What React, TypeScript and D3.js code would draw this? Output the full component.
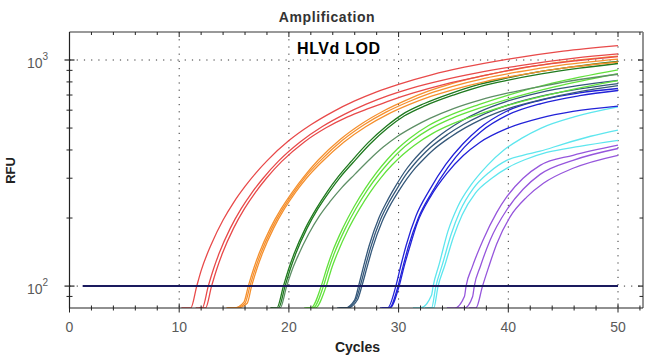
import React from "react";
import * as d3 from "d3";

type Pt = [number, number];

const xMajorTicks = [0, 10, 20, 30, 40, 50];
const xMinorTicks = [0, 2, 4, 6, 8, 10, 12, 14, 16, 18, 20, 22, 24, 26, 28, 30, 32, 34, 36, 38, 40, 42, 44, 46, 48, 50, 52];
const yMajorTicks = [100, 1000];
const yMinorTicks = [90, 200, 300, 400, 500, 600, 700, 800, 900];
const yTickExp = ["2", "3"];
const threshold: Pt[] = [[1.2, 100], [50, 100]];

const red1: Pt[] = [[10.2,70],[11.05,80],[11.6,100],[12.0,117],[13.0,156],[14.0,196],[15.0,236],[16.0,276],[17.0,317],[18,358],[20,440],[22,517],[24,590],[26,659],[28,723],[30,781],[33,860],[36,929],[40,1009],[45,1095],[50,1158]];
const red2: Pt[] = [[11.5,70],[12.1,80],[12.65,100],[13.15,120],[13.65,140],[14.65,180],[15.65,220],[16.65,260],[17.65,300],[19.05,357],[21.05,435],[23.05,508],[25.05,575],[27.05,638],[29.05,696],[31.05,748],[34.05,815],[37.05,875],[41.05,945],[46.05,1020],[50,1065]];
const red3: Pt[] = [[11.8,70],[12.4,80],[12.95,100],[13.45,120],[13.95,140],[14.95,180],[15.95,220],[16.95,260],[17.95,300],[19.35,356],[21.35,432],[23.35,500],[25.35,560],[27.35,612],[29.35,665],[31.35,715],[34.35,785],[37.35,845],[41.35,925],[46.35,995],[50,1036]];
const orange1: Pt[] = [[14.3,70],[15.0,80],[15.9,85],[16.3,100],[16.8,120],[17.3,140],[18.3,180],[19.3,220],[20.3,260],[21.3,302],[22.7,362],[24.7,446],[26.7,525],[28.7,598],[30.7,665],[32.7,728],[34.7,782],[37.7,852],[40.7,910],[44.7,978],[50,1041]];
const orange2: Pt[] = [[14.4,70],[15.1,80],[16.0,84],[16.45,100],[16.95,120],[17.45,140],[18.45,180],[19.45,220],[20.45,260],[21.45,302],[22.85,358],[24.85,440],[26.85,517],[28.85,588],[30.85,652],[32.85,712],[34.85,763],[37.85,830],[40.85,885],[44.85,950],[50,1010]];
const orange3: Pt[] = [[14.6,70],[15.3,80],[16.2,84],[16.6,100],[17.1,120],[17.6,140],[18.6,180],[19.6,220],[20.6,260],[21.6,300],[23.0,354],[25.0,433],[27.0,507],[29.0,575],[31.0,636],[33.0,692],[35.0,740],[38.0,805],[41.0,857],[45.0,920],[50,980]];
const dkgreen1: Pt[] = [[18.3,70],[18.9,80],[19.5,100],[20.0,120],[20.5,140],[21.5,180],[22.5,220],[23.5,262],[24.5,305],[25.7,357],[27.25,432],[28.85,508],[30.35,575],[32.35,642],[34.85,714],[37.35,780],[39.85,832],[42.85,888],[46.35,940],[50,985]];
const dkgreen2: Pt[] = [[18.4,70],[19.05,80],[19.65,100],[20.15,120],[20.65,140],[21.65,180],[22.65,220],[23.65,260],[24.65,302],[25.85,352],[27.4,425],[29.0,500],[30.5,565],[32.5,630],[35.0,700],[37.5,765],[40.0,815],[43.0,868],[46.5,920],[50,965]];
const dkgreen3: Pt[] = [[18.5,70],[19.2,80],[19.8,100],[20.3,118],[20.8,135],[21.8,170],[22.8,205],[23.8,238],[24.8,272],[26.0,312],[27.4,365],[28.6,412],[29.85,458],[31.3,505],[32.85,552],[35.0,610],[37.4,665],[40.0,715],[43.0,765],[46.5,820],[50,865]];
const ltgreen1: Pt[] = [[21.4,70],[22.0,80],[22.95,100],[23.45,120],[23.95,141],[24.95,182],[25.95,225],[26.95,270],[27.95,316],[28.95,362],[29.95,407],[31.0,450],[32.7,512],[34.5,565],[37.3,635],[40,700],[44,790],[50,905]];
const ltgreen2: Pt[] = [[21.6,70],[22.2,80],[23.15,100],[23.65,120],[24.15,140],[25.15,180],[26.15,222],[27.15,266],[28.15,310],[29.15,354],[30.15,397],[31.2,438],[32.9,497],[34.7,548],[37.5,615],[40.2,676],[44.2,760],[50,870]];
const ltgreen3: Pt[] = [[21.8,70],[22.4,80],[23.4,100],[23.9,120],[24.4,139],[25.4,178],[26.4,218],[27.4,260],[28.4,302],[29.4,343],[30.4,382],[31.45,420],[33.15,475],[34.95,523],[37.75,585],[40.45,640],[44.45,715],[50,810]];
const slate1: Pt[] = [[24.4,70],[25.1,80],[26.0,87],[26.35,100],[26.8,122],[27.3,150],[28.2,200],[29.0,240],[29.75,278],[30.5,318],[31.25,355],[32.0,390],[32.8,425],[34.3,485],[35.8,540],[37.35,590],[39.8,655],[42.85,718],[46.5,772],[50,812]];
const slate2: Pt[] = [[24.55,70],[25.2,80],[26.1,87],[26.5,100],[26.95,121],[27.45,148],[28.35,197],[29.15,236],[29.9,272],[30.65,310],[31.4,345],[32.15,378],[32.95,412],[34.45,468],[35.95,520],[37.5,568],[39.9,630],[42.9,690],[46.5,745],[50,787]];
const slate3: Pt[] = [[24.7,70],[25.35,80],[26.25,87],[26.65,100],[27.1,120],[27.6,146],[28.5,193],[29.3,231],[30.05,265],[30.8,300],[31.55,334],[32.3,365],[33.1,398],[34.6,452],[36.1,502],[37.6,548],[40.0,610],[43.0,668],[46.5,725],[50,770]];
const blue1: Pt[] = [[28.3,70],[29.0,80],[29.75,100],[30.2,123],[30.7,152],[31.6,205],[32.8,265],[34.3,345],[35.85,425],[37.35,498],[39.8,592],[42.85,662],[46.5,716],[50,748]];
const blue2: Pt[] = [[28.45,70],[29.15,80],[29.95,100],[30.4,122],[30.9,150],[31.8,200],[33.0,258],[34.5,335],[36.0,412],[37.5,482],[40,573],[43,642],[46.5,695],[50,733]];
const blue3: Pt[] = [[28.5,70],[29.2,80],[30.05,100],[30.5,122],[31.0,148],[31.7,190],[32.9,248],[34.4,315],[35.9,378],[37.4,432],[39.85,497],[42.9,553],[45.9,592],[50,625]];
const cyan1: Pt[] = [[31.3,70],[32.0,80],[33.0,91],[33.15,100],[33.7,125],[34.5,175],[35.4,225],[36.6,280],[38.1,342],[39.6,400],[41.2,450],[43.0,500],[46,560],[50,620]];
const cyan2: Pt[] = [[32.4,70],[33.0,80],[33.4,100],[34.0,125],[34.8,170],[35.6,215],[36.8,270],[38.3,320],[39.85,360],[41.4,380],[42.9,395],[45,425],[47.5,460],[50,490]];
const cyan3: Pt[] = [[32.6,70],[33.2,80],[33.6,100],[34.2,123],[35.0,165],[35.8,207],[37.0,258],[38.5,300],[40.0,335],[41.5,362],[43.5,390],[46.5,415],[50,441]];
const purple1: Pt[] = [[34.4,70],[35.1,80],[36.0,90],[36.15,100],[36.7,121],[37.7,160],[38.95,212],[39.85,248],[41.35,300],[42.9,342],[45.9,379],[50,420]];
const purple2: Pt[] = [[35.3,70],[36.0,80],[36.75,90],[36.9,100],[37.45,122],[38.35,160],[39.85,217],[41.35,268],[42.9,312],[45.9,360],[50,406]];
const purple3: Pt[] = [[36.4,70],[37.05,80],[37.65,100],[38.2,121],[38.95,154],[40.15,202],[41.7,248],[43.2,285],[45.9,332],[50,379]];

const series: { group: string; pts: Pt[] }[] = [
  { group: "purple", pts: purple1 }, { group: "purple", pts: purple2 }, { group: "purple", pts: purple3 },
  { group: "cyan", pts: cyan1 }, { group: "cyan", pts: cyan2 }, { group: "cyan", pts: cyan3 },
  { group: "blue", pts: blue1 }, { group: "blue", pts: blue2 }, { group: "blue", pts: blue3 },
  { group: "slate", pts: slate1 }, { group: "slate", pts: slate2 }, { group: "slate", pts: slate3 },
  { group: "ltgreen", pts: ltgreen1 }, { group: "ltgreen", pts: ltgreen2 }, { group: "ltgreen", pts: ltgreen3 },
  { group: "dkgreen", pts: dkgreen1 }, { group: "dkgreen", pts: dkgreen2 }, { group: "greygreen", pts: dkgreen3 },
  { group: "orange", pts: orange1 }, { group: "orange", pts: orange2 }, { group: "orange", pts: orange3 },
  { group: "red", pts: red1 }, { group: "red", pts: red2 }, { group: "red", pts: red3 },
];

const colors: Record<string, string> = {
  red: "#e84a4a",
  orange: "#f5902e",
  dkgreen: "#1f7a1f",
  greygreen: "#5e8f66",
  ltgreen: "#62e23c",
  slate: "#35587a",
  blue: "#2222d8",
  cyan: "#5ee6ee",
  purple: "#9656dc",
};

const W = 652;
const H = 359;
const left = 69.5;
const right = 643;
const top = 32;
const bottom = 308;

export default function App() {
  const x = d3.scaleLinear().domain([0, 50]).range([left, 618]);
  const y = d3.scaleLog().domain([80, 1330]).range([bottom, top]).clamp(true);
  const line = d3
    .line<Pt>()
    .x((d) => x(d[0]))
    .y((d) => y(d[1]))
    .curve(d3.curveMonotoneX);
  const font = "'Liberation Sans', Arial, sans-serif";
  const xMax = x.invert(right);

  return (
    <svg
      width={W}
      height={H}
      style={{ position: "absolute", left: 0, top: 0, background: "#fff" }}
      fontFamily={font}
    >
      <defs>
        <clipPath id="plot">
          <rect x={left} y={top} width={right - left} height={bottom - top} />
        </clipPath>
      </defs>
      <rect x={0} y={0} width={W} height={H} fill="#fff" />
      {xMajorTicks.filter((t) => t > 0).map((t) => (
        <line key={"gx" + t} x1={x(t)} x2={x(t)} y1={top} y2={bottom} stroke="#333" strokeWidth={1} strokeDasharray="1.2,6" />
      ))}
      {yMajorTicks.map((t) => (
        <line key={"gy" + t} x1={left} x2={right} y1={y(t)} y2={y(t)} stroke="#333" strokeWidth={1} strokeDasharray="1.2,6" />
      ))}
      <g clipPath="url(#plot)">
        {series.map((s, i) => (
          <path key={i} d={line(s.pts) || ""} fill="none" stroke={colors[s.group]} strokeWidth={1.3} />
        ))}
      </g>
      <path d={d3.line<Pt>().x((d) => x(d[0])).y((d) => y(d[1]))(threshold) || ""} stroke="#1a1a5e" strokeWidth={2} fill="none" />
      <line x1={left} x2={right} y1={top} y2={top} stroke="#777" strokeWidth={1.6} />
      <line x1={right} x2={right} y1={top} y2={bottom} stroke="#777" strokeWidth={1.6} />
      <line x1={left} x2={left} y1={top} y2={bottom + 0.5} stroke="#222" strokeWidth={1.2} />
      <line x1={left} x2={right} y1={bottom} y2={bottom} stroke="#222" strokeWidth={1.2} />
      {xMinorTicks.filter((t) => t <= xMax).map((t) => {
        const major = xMajorTicks.includes(t);
        return (
          <g key={"xt" + t}>
            <line x1={x(t)} x2={x(t)} y1={bottom - (major ? 4.5 : 2.5)} y2={bottom + (major ? 4.5 : 2.5)} stroke="#222" strokeWidth={1} />
            <line x1={x(t)} x2={x(t)} y1={top} y2={top + (major ? 5 : 3)} stroke="#222" strokeWidth={1} />
          </g>
        );
      })}
      {xMajorTicks.map((t) => (
        <text key={"xl" + t} x={x(t)} y={332} textAnchor="middle" fontSize={14} fill="#5a5a5a">
          {t}
        </text>
      ))}
      {yMinorTicks.map((t) => (
        <g key={"yt" + t}>
          <line x1={left - 3} x2={left + 3} y1={y(t)} y2={y(t)} stroke="#222" strokeWidth={1} />
          <line x1={right - 3.5} x2={right} y1={y(t)} y2={y(t)} stroke="#222" strokeWidth={1} />
        </g>
      ))}
      {yMajorTicks.map((t, i) => (
        <g key={"yM" + t}>
          <line x1={left - 5} x2={left + 5} y1={y(t)} y2={y(t)} stroke="#222" strokeWidth={1.2} />
          <line x1={right - 5} x2={right} y1={y(t)} y2={y(t)} stroke="#222" strokeWidth={1.2} />
          <text x={27} y={y(t) + 7.5} fontSize={14} fill="#5a5a5a">
            10
            <tspan fontSize={10} dy={-8}>
              {yTickExp[i]}
            </tspan>
          </text>
        </g>
      ))}
      <text x={327} y={21.5} textAnchor="middle" fontSize={14} fontWeight="bold" fill="#333" letterSpacing={0.6}>
        Amplification
      </text>
      <text x={297} y={53.5} fontSize={16} fontWeight="bold" fill="#000" letterSpacing={0.6}>
        HLVd LOD
      </text>
      <text x={357.5} y={352} textAnchor="middle" fontSize={14} fontWeight="bold" fill="#222">
        Cycles
      </text>
      <text transform={`translate(15,170.5) rotate(-90)`} textAnchor="middle" fontSize={13} fontWeight="bold" fill="#222">
        RFU
      </text>
    </svg>
  );
}
